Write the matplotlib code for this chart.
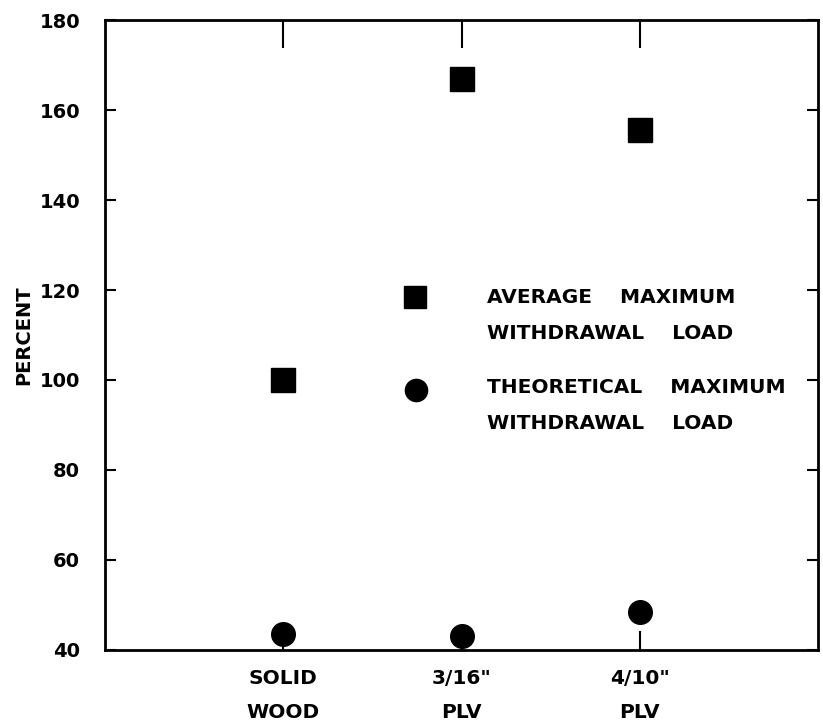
import matplotlib
matplotlib.use("Agg")
import matplotlib.pyplot as plt

# dati
categorie = ["SOLID\nWOOD", "3/16\"\nPLV", "4/10\"\nPLV"]
posizioni = [1, 2, 3]
carico_medio = [100, 167, 155.5]       # quadrati
carico_teorico = [43.5, 43, 48.5]      # cerchi
y_ticks = [40, 60, 80, 100, 120, 140, 160, 180]

plt.rcParams['font.family'] = ['DejaVu Sans']
plt.rcParams['font.weight'] = 'bold'

fig = plt.figure(figsize=(8.23, 7.23), dpi=100)
ax = fig.add_axes([0.1276, 0.101, 0.8664, 0.8713])

ax.plot(posizioni, carico_medio, linestyle="none", marker="s", markersize=17,
        color="black", clip_on=False)
ax.plot(posizioni, carico_teorico, linestyle="none", marker="o", markersize=17,
        color="black", clip_on=False)

ax.set_xlim(0, 4)
ax.set_ylim(40, 180)

ax.set_yticks(y_ticks)
ax.set_yticklabels([str(v) for v in y_ticks], fontsize=14, fontweight="bold")
ax.set_xticks(posizioni)
ax.set_xticklabels(categorie, fontsize=14.5, fontweight="bold", linespacing=2.0)

ax.tick_params(axis="y", direction="in", length=8, width=1.5, pad=18,
               left=True, right=True)
ax.tick_params(axis="x", direction="in", length=14, width=1.5, pad=14,
               bottom=True)
# tacche in alto più lunghe
ax.tick_params(axis="x", which="major", top=True)
for t in ax.xaxis.get_major_ticks():
    t.tick2line.set_markersize(20)

for s in ax.spines.values():
    s.set_linewidth(2)

ax.set_ylabel("PERCENT", fontsize=14, fontweight="bold")
ax.yaxis.set_label_coords(-0.1, 0.5)

# legenda disegnata a mano (coordinate degli assi)
ax.plot([0.435], [0.560], marker="s", markersize=16, color="black",
        transform=ax.transAxes, clip_on=False)
ax.plot([0.436], [0.413], marker="o", markersize=16, color="black",
        transform=ax.transAxes, clip_on=False)
righe = [("AVERAGE    MAXIMUM", 0.559), ("WITHDRAWAL    LOAD", 0.503),
         ("THEORETICAL    MAXIMUM", 0.416), ("WITHDRAWAL    LOAD", 0.359)]
for testo, yy in righe:
    ax.text(0.536, yy, testo, transform=ax.transAxes, fontsize=14.5,
            fontweight="bold", va="center", ha="left")

fig.savefig("out.png", dpi=100)
